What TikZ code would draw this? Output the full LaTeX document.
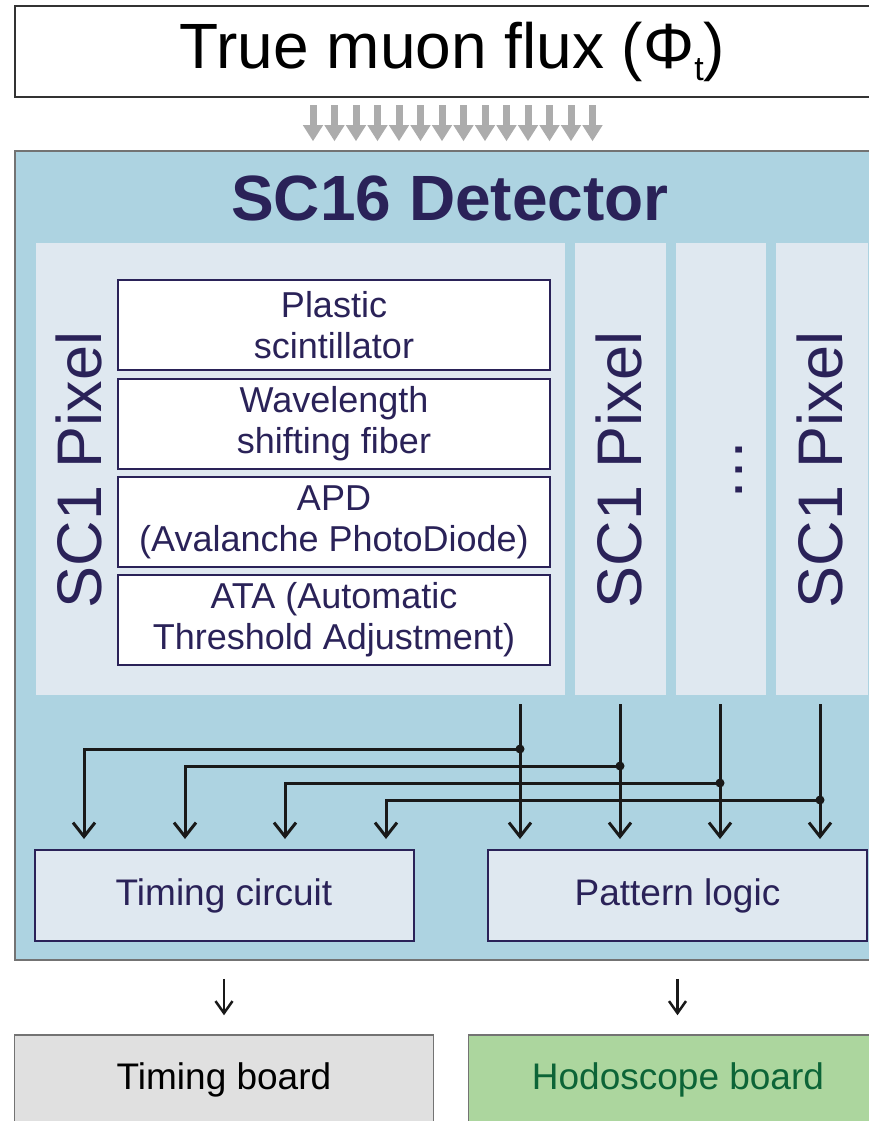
\documentclass[tikz,border=0pt]{standalone}
\usepackage{fontspec}
\setmainfont{Liberation Sans}
\usetikzlibrary{arrows.meta,calc}
\definecolor{detblue}{RGB}{173,211,225}
\definecolor{pixfill}{RGB}{223,232,240}
\definecolor{navy}{RGB}{42,34,88}
\definecolor{boardgray}{RGB}{224,224,224}
\definecolor{hodogreen}{RGB}{172,214,158}
\definecolor{hodotext}{RGB}{12,100,55}
\definecolor{fluxgray}{RGB}{172,172,172}
\tikzset{
  layer/.style={draw=navy,line width=2pt,fill=white,text=navy,minimum width=432pt,minimum height=90pt,inner sep=0pt,align=center,font=\fontsize{36}{41}\selectfont},
  pixcol/.style={fill=pixfill,minimum height=452pt,inner sep=0pt},
  pixlabel/.style={rotate=90,anchor=base,text=navy,inner sep=0pt,font=\fontsize{63}{70}\selectfont},
  unit/.style={draw=navy,line width=2pt,fill=pixfill,text=navy,minimum width=379pt,minimum height=91pt,inner sep=0pt,font=\fontsize{37}{41}\selectfont},
  board/.style={draw=black!55,line width=1.5pt,minimum width=419pt,minimum height=90pt,inner sep=0pt,font=\fontsize{37}{41}\selectfont},
  sig/.style={line width=3pt,draw=black!90,-{Straight Barb[length=14pt,width=22pt]}},
  fluxarrow/.style={line width=7pt,draw=fluxgray,-{Triangle[length=16pt,width=19pt]}},
  thinarrow/.style={line width=2.5pt,draw=black!90,-{Straight Barb[length=12pt,width=17pt]}}
}
\begin{document}
\begin{tikzpicture}[x=1pt,y=-1pt]
\useasboundingbox(0,0)rectangle(869,1121);\clip(0,0)rectangle(869,1121);
\node[draw=black!80,line width=2.5pt,fill=white,minimum width=875pt,minimum height=91pt,inner sep=0pt,font=\fontsize{64}{70}\selectfont](flux)at(452.5,51.5){True muon flux (Φ\raisebox{-0.2em}{\fontsize{34}{34}\selectfont t})};
\foreach\i in{0,...,13}\draw[fluxarrow]($(flux.south)+(-139.5+21.5*\i,7)$)--++(0,36);
\node[draw=black!55,line width=1.5pt,fill=detblue,minimum width=870pt,minimum height=809pt,inner sep=0pt](det)at(450,555.5){};
\node[text=navy,font=\bfseries\fontsize{64}{70}\selectfont](dettitle)at(450,198){SC16 Detector};
\node[pixcol,minimum width=529pt](pix1)at(300.5,469){};\node[pixcol,minimum width=91pt](pix2)at(620.5,469){};
\node[pixcol,minimum width=90pt](pix3)at(721,469){};\node[pixcol,minimum width=92pt](pix4)at(822,469){};
\node[pixlabel](lab1)at(101,470){SC1 Pixel};\node[pixlabel](lab2)at(641,470){SC1 Pixel};
\node[pixlabel](dots)at(742,470){…};\node[pixlabel](lab4)at(842,470){SC1 Pixel};
\node[layer](scint)at(334,325){Plastic\\scintillator};
\node[layer](fiber)at(334,423.5){Wavelength\\shifting fiber};
\node[layer](apd)at(334,522){APD\\(Avalanche PhotoDiode)};
\node[layer](ata)at(334,620){ATA (Automatic\\Threshold Adjustment)};
\node[unit](tc)at(224,895.5){Timing circuit};\node[unit](pl)at(677.5,895.5){Pattern logic};
\foreach\x/\y/\t in{520/749/84,620/766/185,720/783/285,820/800/386}{
  \coordinate(s)at(\x,704);\coordinate(j)at(\x,\y);
  \draw[sig,shorten >=10pt](s)--(s|-pl.north);
  \draw[sig,shorten >=10pt](j)-|(\t,0|-tc.north);
  \fill[black!90](j)circle(4.5pt);
}
\node[board,fill=boardgray](tb)at(224,1080){Timing board};
\node[board,fill=hodogreen,text=hodotext](hb)at(678,1080){Hodoscope board};
\draw[thinarrow,shorten <=18pt,shorten >=19pt](tc.south|-det.south)--(tc.south|-tb.north);
\draw[thinarrow,shorten <=18pt,shorten >=19pt](pl.south|-det.south)--(pl.south|-hb.north);
\end{tikzpicture}
\end{document}
